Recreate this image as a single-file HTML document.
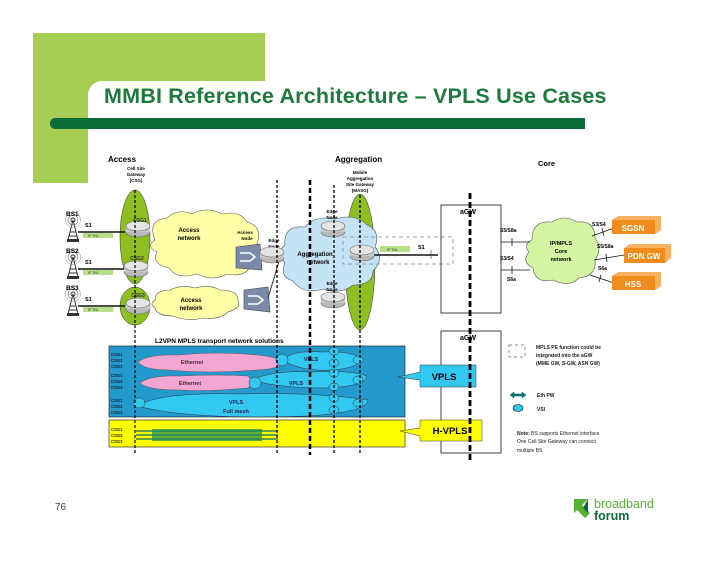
<!DOCTYPE html>
<html><head><style>
body{margin:0;background:#fff;width:728px;height:563px;overflow:hidden}
svg{display:block;font-family:"Liberation Sans",Arial,sans-serif}
</style></head><body>
<svg width="728" height="563" viewBox="0 0 728 563">
<defs>
<g id="rtr"><ellipse cx="0" cy="4" rx="12" ry="5" fill="#b8b8b8" stroke="#666" stroke-width="0.6"/><rect x="-12" y="-2" width="24" height="6" fill="#c8c8c8"/><ellipse cx="0" cy="-2" rx="12" ry="5" fill="#e4e4e4" stroke="#666" stroke-width="0.6"/></g>
<g id="tower"><path d="M-5 14 L0 -6 L5 14 Z M-3 6 L3 6 M-4 10 L4 10" fill="none" stroke="#333" stroke-width="1"/><rect x="-6" y="13" width="12" height="3" fill="#333"/><circle cx="0" cy="-6" r="2" fill="none" stroke="#333"/><circle cx="0" cy="-6" r="5" fill="none" stroke="#666" stroke-width="0.6"/><circle cx="0" cy="-6" r="7.5" fill="none" stroke="#888" stroke-width="0.5"/></g>
</defs>
<!-- header -->
<rect x="33" y="33" width="232" height="150" fill="#a6ce53"/>
<rect x="88" y="81" width="660" height="200" rx="14" fill="#fff"/>
<text x="104" y="103" font-size="21.5" font-weight="bold" fill="#1c7a3c" letter-spacing="0.2">MMBI Reference Architecture –  VPLS Use Cases</text>
<rect x="50" y="118" width="535" height="11" rx="5" fill="#0b6b3a"/>
<rect x="56" y="118" width="529" height="11" fill="#0b6b3a"/>
<!-- section labels -->
<text x="108" y="162" font-size="8" font-weight="bold">Access</text>
<g font-size="4.5" text-anchor="middle" font-weight="bold"><text x="136" y="170">Cell   Site</text><text x="136" y="176">Gateway</text><text x="136" y="182">(CSG)</text>
<text x="360" y="174">Mobile</text><text x="360" y="180">Aggregation</text><text x="360" y="186">Site Gateway</text><text x="360" y="192">(MASG)</text></g>
<text x="335" y="162" font-size="8" font-weight="bold">Aggregation</text>
<text x="538" y="166" font-size="7.5" font-weight="bold">Core</text>
<!-- ellipses -->
<ellipse cx="135" cy="237" rx="15" ry="47" fill="#8cbf1f" stroke="#333" stroke-width="0.5"/>
<ellipse cx="135" cy="306" rx="15" ry="19" fill="#8cbf1f" stroke="#333" stroke-width="0.5"/>
<ellipse cx="360" cy="262" rx="15" ry="68" fill="#8cbf1f" stroke="#333" stroke-width="0.5"/>
<!-- clouds -->
<g fill="#ffffa8" stroke="#555" stroke-width="0.6">
<path d="M155 240 q-8 -20 12 -22 q10 -10 25 -4 q15 -8 30 0 q18 -4 25 8 q16 4 10 22 q10 12 -6 20 q-4 14 -24 10 q-14 8 -30 0 q-20 6 -28 -6 q-18 -4 -12 -16 q-12 -6 -2 -12z"/>
<path d="M155 300 q0 -10 15 -10 q12 -6 25 -2 q15 -4 25 2 q18 0 18 10 q4 8 -10 12 q-8 8 -25 6 q-15 4 -30 -2 q-16 0 -18 -8 q-6 -4 0 -8z"/>
</g>
<path d="M285 245 q-2 -20 20 -18 q10 -12 30 -8 q20 -6 32 6 q14 6 8 22 q10 12 -2 24 q0 14 -20 14 q-12 10 -30 4 q-20 6 -30 -8 q-14 -4 -8 -18 q-10 -10 0 -18z" fill="#c4e4f6" stroke="#555" stroke-width="0.6"/>
<path d="M532 240 q0 -20 20 -18 q12 -8 25 0 q18 -2 18 16 q8 10 0 22 q2 16 -16 18 q-10 10 -26 2 q-18 4 -20 -12 q-12 -6 -4 -16 q-6 -8 3 -12z" fill="#d4f5a4" stroke="#555" stroke-width="0.6"/>
<g font-size="6" font-weight="bold" text-anchor="middle"><text x="189" y="232">Access</text><text x="189" y="240">network</text>
<text x="191" y="302">Access</text><text x="191" y="310">network</text>
<text x="315" y="256">Aggregation</text><text x="318" y="264">network</text>
<text x="561" y="245" font-size="5.5">IP/MPLS</text><text x="561" y="253" font-size="5.5">Core</text><text x="561" y="261" font-size="5.5">network</text></g>
<g font-size="4.5" text-anchor="middle" font-weight="bold"><text x="245" y="234">Access</text><text x="247" y="240">Node</text>
<text x="274" y="242">Edge</text><text x="274" y="248">Node</text>
<text x="332" y="213">Edge</text><text x="332" y="219">Node</text>
<text x="332" y="285">Edge</text><text x="332" y="291">Node</text></g>
<!-- access nodes -->
<g fill="#7a8aa8" stroke="#444" stroke-width="0.6"><path d="M236 247 L260 244 L262 270 L236 268 Z"/><path d="M244 290 L268 287 L270 312 L244 309 Z"/></g>
<g stroke="#fff" stroke-width="1.5" fill="none"><path d="M240 253 h10 l5 4 l-5 4 h-10"/><path d="M248 296 h10 l5 4 l-5 4 h-10"/></g>
<line x1="262" y1="258" x2="272" y2="253" stroke="#333"/><line x1="268" y1="298" x2="280" y2="258" stroke="#333"/>
<!-- BS lines -->
<g stroke="#111" stroke-width="1.5"><line x1="78" y1="232" x2="125" y2="232"/><line x1="78" y1="269" x2="125" y2="269"/><line x1="78" y1="306" x2="125" y2="306"/><line x1="373" y1="255" x2="438" y2="255"/></g>
<g fill="#b8e08a"><rect x="83" y="233" width="30" height="5"/><rect x="83" y="270" width="30" height="5"/><rect x="83" y="307" width="30" height="5"/><rect x="380" y="246" width="30" height="6"/></g>
<g font-size="3.5" fill="#333"><text x="88" y="237">IP TNL</text><text x="88" y="274">IP TNL</text><text x="88" y="311">IP TNL</text><text x="387" y="251">IP TNL</text></g>
<use href="#tower" x="73" y="226"/><use href="#tower" x="73" y="263"/><use href="#tower" x="73" y="300"/>
<g font-size="6.5" font-weight="bold"><text x="66" y="216">BS1</text><text x="66" y="253">BS2</text><text x="66" y="290">BS3</text>
<text x="85" y="227" font-size="5.5">S1</text><text x="85" y="264" font-size="5.5">S1</text><text x="85" y="301" font-size="5.5">S1</text><text x="418" y="249" font-size="5.5">S1</text></g>
<line x1="431" y1="250" x2="431" y2="259" stroke="#333" stroke-width="0.6"/>
<!-- routers -->
<use href="#rtr" x="138" y="228"/><use href="#rtr" x="136" y="268"/><use href="#rtr" x="138" y="305"/>
<use href="#rtr" x="272" y="254"/><use href="#rtr" x="333" y="228"/><use href="#rtr" x="333" y="299"/><use href="#rtr" x="362" y="252"/>
<g font-size="5" font-weight="bold" fill="#333" text-anchor="middle"><text x="140" y="222">CSG1</text><text x="137" y="260">CSG2</text><text x="138" y="297">CSG3</text></g>
<rect x="343" y="237" width="110" height="27" fill="none" stroke="#888" stroke-width="0.8" stroke-dasharray="4,3"/>
<!-- aGW boxes -->
<rect x="441" y="205" width="60" height="108" fill="none" stroke="#111" stroke-width="0.8"/>
<rect x="441" y="331" width="60" height="122" fill="none" stroke="#111" stroke-width="0.8"/>
<g font-size="7" font-weight="bold" text-anchor="middle"><text x="468" y="214">aGW</text><text x="468" y="340">aGW</text></g>
<!-- core links -->
<g stroke="#111" stroke-width="0.8"><line x1="501" y1="242" x2="530" y2="242"/><line x1="501" y1="270" x2="530" y2="270"/><line x1="512" y1="238" x2="512" y2="246"/><line x1="512" y1="266" x2="512" y2="274"/>
<line x1="592" y1="236" x2="614" y2="228"/><line x1="594" y1="260" x2="624" y2="255"/><line x1="590" y1="275" x2="614" y2="283"/>
<line x1="602" y1="228" x2="604" y2="236"/><line x1="606" y1="254" x2="607" y2="262"/><line x1="601" y1="275" x2="599" y2="282"/></g>
<g font-size="5" font-weight="bold"><text x="500" y="232">S5/S8a</text><text x="500" y="260">S3/S4</text><text x="507" y="281">S6a</text>
<text x="592" y="226">S3/S4</text><text x="597" y="248">S5/S8a</text><text x="598" y="270">S6a</text></g>
<!-- orange boxes -->
<g fill="#f08c1e"><rect x="612" y="220" width="43" height="14"/><rect x="624" y="248" width="41" height="15"/><rect x="612" y="276" width="43" height="14"/></g>
<g fill="#f6b060"><path d="M655 220 l6 -4 v14 l-6 4z M612 220 l6 -4 h43 l-6 4z M665 248 l6 -4 v14 l-6 5z M624 248 l6 -4 h41 l-6 4z M655 276 l6 -4 v14 l-6 4z M612 276 l6 -4 h43 l-6 4z"/></g>
<g font-size="8" font-weight="bold" fill="#fff" text-anchor="middle"><text x="633" y="231">SGSN</text><text x="644" y="259">PDN GW</text><text x="633" y="287">HSS</text></g>
<!-- bottom -->
<text x="155" y="343" font-size="6.5" font-weight="bold">L2VPN MPLS transport network solutions</text>
<rect x="109" y="346" width="296" height="71" fill="#2499cc" stroke="#111" stroke-width="0.6"/>
<rect x="109" y="420" width="296" height="27" fill="#ffff00" stroke="#111" stroke-width="0.6"/>
<g fill="#f4a6d2" stroke="#555" stroke-width="0.5"><path d="M138 362 q10 -8 40 -7 q40 -4 80 0 q20 2 26 8 q-6 6 -26 7 q-50 4 -90 0 q-24 0 -30 -8z"/><path d="M140 383 q10 -8 40 -7 q40 -2 68 0 q6 6 0 12 q-40 4 -70 2 q-30 0 -38 -7z"/></g>
<g fill="#33c8f0" stroke="#333" stroke-width="0.5">
<path d="M282 360 q10 -10 40 -8 q25 -2 40 6 q-2 10 -30 12 q-30 2 -50 -10z"/>
<path d="M252 380 q20 -10 60 -8 q40 -2 55 4 q0 10 -40 12 q-50 0 -75 -8z"/>
<path d="M138 406 q20 -14 100 -12 q80 -2 130 6 q0 12 -60 16 q-120 4 -170 -10z"/>
<ellipse cx="282" cy="360" rx="6" ry="6"/><ellipse cx="255" cy="383" rx="6" ry="6"/><ellipse cx="139" cy="403" rx="6" ry="5"/>
<ellipse cx="334" cy="351" rx="5" ry="4"/><ellipse cx="334" cy="363" rx="5" ry="4"/><ellipse cx="358" cy="360" rx="5" ry="4"/>
<ellipse cx="334" cy="373" rx="5" ry="4"/><ellipse cx="334" cy="387" rx="5" ry="4"/><ellipse cx="358" cy="380" rx="5" ry="4"/>
<ellipse cx="334" cy="398" rx="5" ry="4"/><ellipse cx="334" cy="410" rx="5" ry="4"/><ellipse cx="358" cy="403" rx="5" ry="4"/></g>
<g font-size="5.5" font-weight="bold" fill="#333" text-anchor="middle"><text x="192" y="364">Ethernet</text><text x="190" y="385">Ethernet</text><text x="311" y="361" fill="#225">VPLS</text><text x="296" y="385" fill="#225">VPLS</text><text x="236" y="404" fill="#225">VPLS</text><text x="236" y="413" fill="#225">Full    mesh</text></g>
<g font-size="4.2" font-weight="bold" fill="#222"><text x="111" y="356">CSG1</text><text x="111" y="362">CSG2</text><text x="111" y="368">CSG3</text>
<text x="111" y="377">CSG1</text><text x="111" y="383">CSG2</text><text x="111" y="389">CSG3</text>
<text x="111" y="402">CSG1</text><text x="111" y="408">CSG2</text><text x="111" y="414">CSG3</text>
<text x="111" y="431">CSG1</text><text x="111" y="437">CSG2</text><text x="111" y="443">CSG3</text></g>
<g stroke="#0a6a6a" stroke-width="1.3"><line x1="136" y1="431" x2="278" y2="431"/><line x1="136" y1="435" x2="278" y2="435"/><line x1="136" y1="439" x2="278" y2="439"/></g>
<rect x="152" y="429" width="110" height="12" fill="#1a8a5a" opacity="0.7"/>
<!-- callouts -->
<path d="M420 365 H476 V387 H420 V380 L398 377 L420 372 Z" fill="#33c8f0" stroke="#333" stroke-width="0.5"/>
<path d="M420 420 H482 V441 H420 V436 L400 431 L420 428 Z" fill="#ffff00" stroke="#333" stroke-width="0.5"/>
<g font-size="9.5" font-weight="bold" text-anchor="middle"><text x="444" y="380">VPLS</text><text x="450" y="434">H-VPLS</text></g>
<!-- vertical dashed lines -->
<g stroke="#000" fill="none">
<line x1="135" y1="190" x2="135" y2="455" stroke-width="1.2" stroke-dasharray="3,2"/>
<line x1="277" y1="180" x2="277" y2="455" stroke-width="1.3" stroke-dasharray="3,2"/>
<line x1="310" y1="180" x2="310" y2="455" stroke-width="2.5" stroke-dasharray="5,3"/>
<line x1="334" y1="185" x2="334" y2="455" stroke-width="1.3" stroke-dasharray="3,2"/>
<line x1="360" y1="195" x2="360" y2="455" stroke-width="1.3" stroke-dasharray="3,2"/>
<line x1="470" y1="193" x2="470" y2="462" stroke-width="2.8" stroke-dasharray="6,3"/>
</g>
<!-- legend -->
<rect x="509" y="345" width="16" height="12" fill="none" stroke="#888" stroke-dasharray="3,3"/>
<g font-size="5" font-weight="bold" fill="#222"><text x="536" y="349">MPLS PE function could be</text><text x="536" y="357">integrated into the aGW</text><text x="536" y="365">(MME GW, S-GW, ASN GW)</text>
<text x="537" y="397">Eth  PW</text><text x="537" y="411">VSI</text></g>
<path d="M510 395 l4 -3 v2 h8 v-2 l4 3 l-4 3 v-2 h-8 v2z" fill="#0a7a7a" stroke="#055" stroke-width="0.5"/>
<ellipse cx="518" cy="408" rx="5" ry="3.5" fill="#33c8f0" stroke="#000" stroke-width="0.6"/>
<g font-size="5" fill="#222"><text x="517" y="435"><tspan font-weight="bold">Note:</tspan> BS supports Ethernet interface.</text><text x="517" y="443">One Cell Site Gateway can connect</text><text x="517" y="452">multiple BS.</text></g>
<!-- footer -->
<text x="55" y="510" font-size="10" fill="#444">76</text>
<path d="M574 499 h14 l-6 6 l8 8 l-5 5 l-8 -8 l-3 3 z" fill="#57b233"/>
<path d="M588 499 v14 l-5 -5 z" fill="#0b6b3a"/>
<text x="594" y="508" font-size="12.5" fill="#57b233">broadband</text>
<text x="594" y="520" font-size="12.5" font-weight="bold" fill="#0b6b3a">forum</text>
</svg>
</body></html>
